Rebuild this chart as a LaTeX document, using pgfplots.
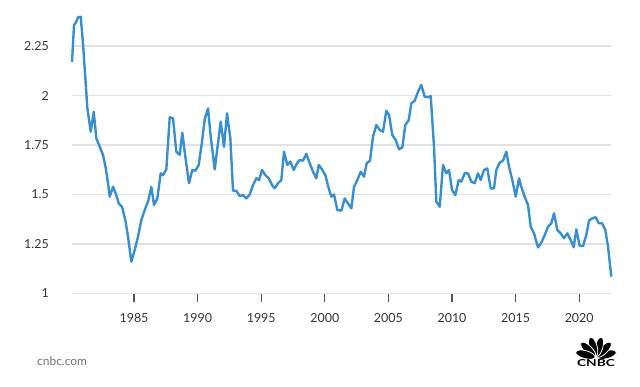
\documentclass[border=0pt]{standalone}
\usepackage{fontspec}
\setmainfont{Lato}
\usepackage{pgfplots}
\pgfplotsset{compat=1.18}
\definecolor{linec}{RGB}{58,142,206}
\definecolor{gridc}{RGB}{226,226,226}
\definecolor{textc}{RGB}{51,51,51}
\definecolor{tickc}{RGB}{85,85,85}
\begin{document}
\begin{tikzpicture}[x=1bp,y=1bp]
\path[use as bounding box] (0,0) rectangle (640,386);
\begin{axis}[
  at={(71.7bp,92.5bp)}, anchor=south west,
  scale only axis, width=539.3bp, height=277.2bp,
  xmin=1980.1, xmax=2022.5, ymin=1, ymax=2.4,
  clip=false,
  axis line style={draw=none},
  ymajorgrids, grid style={gridc, line width=1.3bp},
  ytick={1,1.25,1.5,1.75,2,2.25},
  yticklabels={1,1.25,1.5,1.75,2,2.25},
  xtick={1985,1990,1995,2000,2005,2010,2015,2020},
  xticklabels={1985,1990,1995,2000,2005,2010,2015,2020},
  ytick style={draw=none},
  xtick style={draw=tickc, line width=1.3bp},
  xtick pos=bottom, tick align=outside, major tick length=8bp,
  ticklabel style={font=\fontsize{12.5}{14}\selectfont, text=textc},
  yticklabel style={inner sep=0pt, anchor=east, xshift=-14.7bp},
  xticklabel style={inner sep=0pt, anchor=center, yshift=-16.5bp},
  /pgf/number format/assume math mode=true,
]
\addplot[linec, line width=2.4bp, line join=round] coordinates {
(1980.126,2.17)(1980.283,2.356)(1980.464,2.373)(1980.597,2.395)(1980.81,2.398)
(1980.991,2.26)(1981.171,2.09)(1981.329,1.937)(1981.596,1.817)(1981.832,1.918)
(1982.036,1.784)(1982.303,1.741)(1982.563,1.70)(1982.775,1.634)(1982.956,1.558)
(1983.09,1.489)(1983.349,1.539)(1983.608,1.497)(1983.797,1.455)(1984.057,1.438)
(1984.316,1.371)(1984.528,1.287)(1984.788,1.161)(1985.055,1.22)(1985.314,1.287)
(1985.574,1.371)(1985.841,1.422)(1986.101,1.464)(1986.36,1.539)(1986.572,1.447)
(1986.832,1.48)(1987.099,1.607)(1987.28,1.598)(1987.539,1.627)(1987.807,1.89)
(1988.066,1.885)(1988.325,1.716)(1988.593,1.70)(1988.797,1.812)(1989.033,1.691)
(1989.324,1.557)(1989.583,1.624)(1989.819,1.62)(1990.086,1.649)(1990.346,1.767)
(1990.558,1.88)(1990.818,1.935)(1991.03,1.792)(1991.344,1.627)(1991.549,1.733)
(1991.816,1.868)(1992.075,1.741)(1992.311,1.91)(1992.571,1.784)(1992.783,1.519)
(1993.042,1.519)(1993.31,1.492)(1993.569,1.497)(1993.829,1.48)(1994.1,1.50)
(1994.355,1.548)(1994.615,1.582)(1994.827,1.573)(1995.063,1.624)(1995.322,1.598)
(1995.59,1.582)(1995.849,1.548)(1996.061,1.531)(1996.321,1.557)(1996.58,1.573)
(1996.792,1.716)(1997.052,1.649)(1997.288,1.666)(1997.555,1.624)(1997.814,1.658)
(1998.027,1.674)(1998.286,1.671)(1998.546,1.705)(1998.813,1.658)(1999.072,1.615)
(1999.332,1.582)(1999.52,1.649)(1999.78,1.627)(2000.039,1.598)(2000.307,1.531)
(2000.511,1.489)(2000.723,1.50)(2000.983,1.422)(2001.297,1.418)(2001.564,1.48)
(2001.824,1.455)(2002.083,1.43)(2002.296,1.539)(2002.555,1.573)(2002.822,1.615)
(2003.082,1.59)(2003.294,1.658)(2003.553,1.671)(2003.789,1.792)(2004.049,1.851)
(2004.316,1.826)(2004.575,1.817)(2004.835,1.923)(2005.047,1.902)(2005.307,1.80)
(2005.574,1.775)(2005.833,1.728)(2006.093,1.738)(2006.329,1.851)(2006.596,1.876)
(2006.801,1.96)(2007.068,1.974)(2007.327,2.019)(2007.587,2.053)(2007.854,1.994)
(2008.113,1.991)(2008.326,1.997)(2008.585,1.741)(2008.766,1.464)(2009.033,1.438)
(2009.292,1.649)(2009.552,1.607)(2009.764,1.624)(2010.0,1.523)(2010.259,1.497)
(2010.527,1.573)(2010.731,1.565)(2010.998,1.607)(2011.258,1.607)(2011.517,1.565)
(2011.785,1.557)(2012.044,1.607)(2012.256,1.573)(2012.516,1.624)(2012.775,1.632)
(2013.043,1.531)(2013.302,1.531)(2013.483,1.624)(2013.75,1.661)(2014.009,1.671)
(2014.269,1.716)(2014.481,1.64)(2014.741,1.573)(2015.008,1.489)(2015.267,1.582)
(2015.401,1.548)(2015.66,1.497)(2015.975,1.447)(2016.187,1.337)(2016.447,1.304)
(2016.761,1.233)(2017.021,1.257)(2017.288,1.295)(2017.547,1.337)(2017.807,1.355)
(2018.019,1.405)(2018.278,1.321)(2018.546,1.304)(2018.805,1.279)(2019.065,1.304)
(2019.332,1.27)(2019.568,1.233)(2019.772,1.324)(2020.039,1.24)(2020.299,1.24)
(2020.558,1.295)(2020.77,1.368)(2021.03,1.38)(2021.297,1.385)(2021.533,1.355)
(2021.792,1.355)(2022.052,1.321)(2022.264,1.237)(2022.524,1.085)
};
\end{axis}
\node[anchor=west, inner sep=0pt, text=black!55, font=\fontsize{12}{14}\selectfont] at (37,25.3) {cnbc.com};
\foreach \a in {15,45,75,105,135,165}
  \filldraw[black, draw=white, line width=0.8bp] (596,28.5) ++(\a:11) ellipse [x radius=10, y radius=4, rotate=\a];
\node[inner sep=0pt] at (596,22.5) {\resizebox{38bp}{7bp}{\bfseries CNBC}};
\end{tikzpicture}
\end{document}
